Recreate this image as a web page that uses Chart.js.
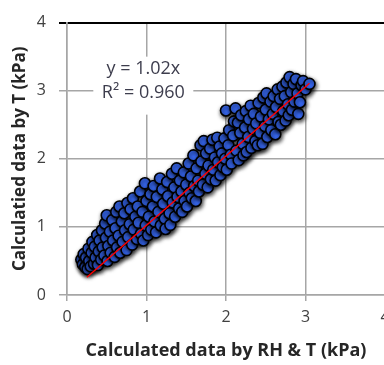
<!DOCTYPE html>
<html>
<head>
<meta charset="utf-8">
<script src="https://cdn.jsdelivr.net/npm/chart.js@4.4.0/dist/chart.umd.min.js"></script>
<style>
    html, body { margin: 0; padding: 0; background: #fff; overflow: hidden; }
    #box { width: 384px; height: 365px; overflow: hidden; }
</style>
</head>
<body>
<div id="box"><canvas id="scatter-chart" width="400" height="365"></canvas></div>
<script>
// 数据：横轴 RH & T 计算值，纵轴 T 计算值 (kPa)
var xValues = [
    0.18, 0.20, 0.21, 0.23, 0.24, 0.26, 0.27, 0.28, 0.30, 0.31, 0.32,
    0.34, 0.35, 0.36, 0.38, 0.39, 0.40, 0.41, 0.43, 0.44, 0.45,
    0.47, 0.48, 0.49, 0.50, 0.51, 0.52, 0.54, 0.55, 0.57, 0.58, 0.60,
    0.61, 0.62, 0.63, 0.65, 0.66, 0.67, 0.69, 0.70, 0.72, 0.73, 0.75,
    0.76, 0.77, 0.79, 0.80, 0.82, 0.83, 0.84, 0.86, 0.88, 0.89, 0.90,
    0.92, 0.93, 0.95, 0.96, 0.98, 0.99, 1.00, 1.02, 1.03, 1.05,
    1.06, 1.08, 1.09, 1.10, 1.12, 1.13, 1.15, 1.17, 1.18, 1.20,
    1.21, 1.23, 1.24, 1.26, 1.27, 1.29, 1.30, 1.32, 1.33, 1.35,
    1.36, 1.38, 1.39, 1.41, 1.42, 1.44, 1.45, 1.47, 1.48, 1.50,
    1.51, 1.53, 1.54, 1.56, 1.57, 1.59, 1.60, 1.62, 1.63, 1.65,
    1.66, 1.68, 1.69, 1.71, 1.72, 1.74, 1.75, 1.77, 1.78, 1.80,
    1.81, 1.83, 1.84, 1.86, 1.87, 1.89, 1.90, 1.92, 1.93, 1.95,
    1.96, 1.98, 1.99, 2.00, 2.01, 2.03, 2.04, 2.06, 2.07, 2.09, 2.10,
    2.12, 2.13, 2.15, 2.16, 2.18, 2.19, 2.21, 2.22, 2.24, 2.25,
    2.26, 2.28, 2.29, 2.31, 2.32, 2.34, 2.35, 2.37, 2.38, 2.40,
    2.41, 2.43, 2.44, 2.46, 2.47, 2.49, 2.50, 2.51, 2.52, 2.54,
    2.56, 2.57, 2.59, 2.60, 2.62, 2.63, 2.65, 2.66, 2.68, 2.69,
    2.71, 2.72, 2.74, 2.75, 2.76, 2.78, 2.79, 2.80, 2.82, 2.83, 2.85,
    2.86, 2.88, 2.90, 2.91, 2.93, 2.95, 2.97, 3.00, 3.05
];
var yValues = [
    0.52, 0.45, 0.60, 0.41, 0.55, 0.38, 0.68, 0.50, 0.42, 0.62, 0.78,
    0.46, 0.71, 0.55, 0.88, 0.44, 0.64, 0.80, 0.52, 0.95, 0.70,
    0.58, 1.05, 0.84, 1.17, 0.50, 0.72, 0.93, 0.62, 1.10, 0.80, 0.56,
    0.98, 1.22, 0.70, 0.87, 1.30, 0.62, 1.08, 0.78, 1.20, 0.95, 0.66,
    1.35, 0.85, 1.04, 1.26, 0.74, 1.42, 0.96, 1.15, 0.82, 1.30, 1.06,
    1.52, 0.90, 1.22, 0.80, 1.64, 1.02, 1.38, 0.88, 1.15, 1.48,
    0.96, 1.30, 1.60, 1.08, 0.92, 1.44, 1.22, 1.71, 1.02, 1.55,
    1.34, 1.12, 0.97, 1.66, 1.45, 1.20, 1.03, 1.78, 1.36, 1.58,
    1.15, 1.86, 1.44, 1.27, 1.68, 1.52, 1.22, 1.80, 1.38, 1.62,
    1.30, 1.93, 1.50, 1.74, 1.42, 2.05, 1.60, 1.38, 1.86, 1.68,
    1.52, 2.20, 1.96, 1.62, 2.26, 1.78, 2.08, 1.58, 1.90, 2.15,
    1.70, 2.28, 1.84, 2.02, 1.68, 2.31, 1.95, 2.18, 1.76, 2.08,
    1.88, 2.30, 2.00, 2.71, 1.84, 2.20, 2.42, 2.06, 1.93, 2.34, 2.55,
    2.74, 2.12, 2.53, 1.98, 2.38, 2.64, 2.22, 2.05, 2.46, 2.70,
    2.10, 2.32, 2.58, 2.78, 2.16, 2.44, 2.66, 2.26, 2.52, 2.20,
    2.82, 2.38, 2.62, 2.22, 2.90, 2.48, 2.72, 2.96, 2.32, 2.58,
    2.84, 2.42, 2.66, 2.92, 2.36, 2.76, 3.02, 2.54, 2.88, 2.50,
    3.06, 2.70, 2.92, 2.56, 3.12, 2.80, 2.64, 3.20, 2.98, 2.72, 3.10,
    2.84, 3.17, 2.96, 2.66, 2.83, 3.08, 3.14, 3.02, 3.10
];
// 趋势线 y = 1.02x 两端
var trendX = [0.25, 3.05];
var trendY = [0.26, 3.11];
var tickValues = [0, 1, 2, 3, 4];
var equationText = ['y = 1.02x', 'R\u00b2 = 0.960'];

$ready();
function $ready(){

    //拼点
    function toPoints(xs, ys){
        var pts = [];
        for (var i = 0; i < xs.length; i++) {
            pts.push({x: xs[i], y: ys[i]});
        }
        return pts;
    }

    //阴影 + 公式
    var excelLook = {
        id: 'excelLook',
        beforeDatasetDraw: function(chart, args){
            var ctx = chart.ctx;
            ctx.save();
            if (args.meta.type === 'scatter') {
                ctx.shadowColor = 'rgba(0,0,0,0.8)';
                ctx.shadowBlur = 4;
                ctx.shadowOffsetX = 1;
                ctx.shadowOffsetY = 2;
            }
        },
        afterDatasetDraw: function(chart){
            chart.ctx.restore();
        },
        afterDatasetsDraw: function(chart){
            var ctx = chart.ctx;
            var xs = chart.scales.x, ys = chart.scales.y;
            var cx = xs.getPixelForValue(0.96);
            var top = ys.getPixelForValue(3.5);
            ctx.save();
            ctx.fillStyle = '#fff';
            ctx.fillRect(cx - 50, top, 100, 58);
            ctx.fillStyle = '#3d3d4d';
            ctx.font = '18px "Open Sans"';
            ctx.textAlign = 'center';
            ctx.textBaseline = 'middle';
            ctx.fillText(equationText[0], cx, top + 12);
            ctx.fillText(equationText[1], cx, top + 36);
            ctx.restore();
        }
    };

    function showScatter(){
        var ctx = document.getElementById('scatter-chart');
        var gridGray = '#a6a6a6';
        new Chart(ctx, {
            type: 'scatter',
            data: {
                datasets: [{
                    type: 'line',
                    data: toPoints(trendX, trendY),
                    borderColor: '#ff0000',
                    borderWidth: 1.5,
                    pointRadius: 0,
                    order: 0
                }, {
                    data: toPoints(xValues, yValues),
                    backgroundColor: '#3a6cfa',
                    borderColor: '#000',
                    borderWidth: 1.6,
                    pointRadius: 5.5,
                    order: 1
                }]
            },
            options: {
                responsive: false,
                animation: false,
                events: [],
                layout: { padding: { left: 0, top: 15, right: 15, bottom: 0 } },
                plugins: { legend: { display: false }, tooltip: { enabled: false } },
                scales: {
                    x: {
                        type: 'linear', min: 0, max: 4,
                        afterFit: function(s){ s.height = 70; },
                        afterBuildTicks: function(s){ s.ticks = tickValues.map(function(v){ return {value: v}; }); },
                        grid: { color: gridGray, lineWidth: 1.5, tickLength: 6 },
                        border: { color: gridGray, width: 1.5 },
                        ticks: { padding: 7, color: '#404040', font: { family: 'Open Sans', size: 16 } },
                        title: {
                            display: true,
                            text: 'Calculated data by RH & T (kPa)',
                            color: '#262626',
                            font: { family: 'Open Sans', size: 18, weight: 'bold' },
                            padding: { top: 0, bottom: 3 }
                        }
                    },
                    y: {
                        type: 'linear', min: 0, max: 4,
                        afterFit: function(s){ s.width = 67; },
                        afterBuildTicks: function(s){ s.ticks = tickValues.map(function(v){ return {value: v}; }); },
                        grid: {
                            color: function(c){ return c.tick && c.tick.value === 4 ? '#000' : gridGray; },
                            lineWidth: function(c){ return c.tick && c.tick.value === 4 ? 2 : 1.5; },
                            tickLength: 8
                        },
                        border: { color: gridGray, width: 1.5 },
                        ticks: { padding: 13, color: '#404040', font: { family: 'Open Sans', size: 16 } },
                        title: {
                            display: true,
                            text: 'Calculatied data by T (kPa)',
                            color: '#262626',
                            font: { family: 'Open Sans', size: 17, weight: 'bold' },
                            padding: { top: 10, bottom: 0 }
                        }
                    }
                }
            },
            plugins: [excelLook]
        });
    }

    //散点图
    showScatter();
}
</script>
</body>
</html>
